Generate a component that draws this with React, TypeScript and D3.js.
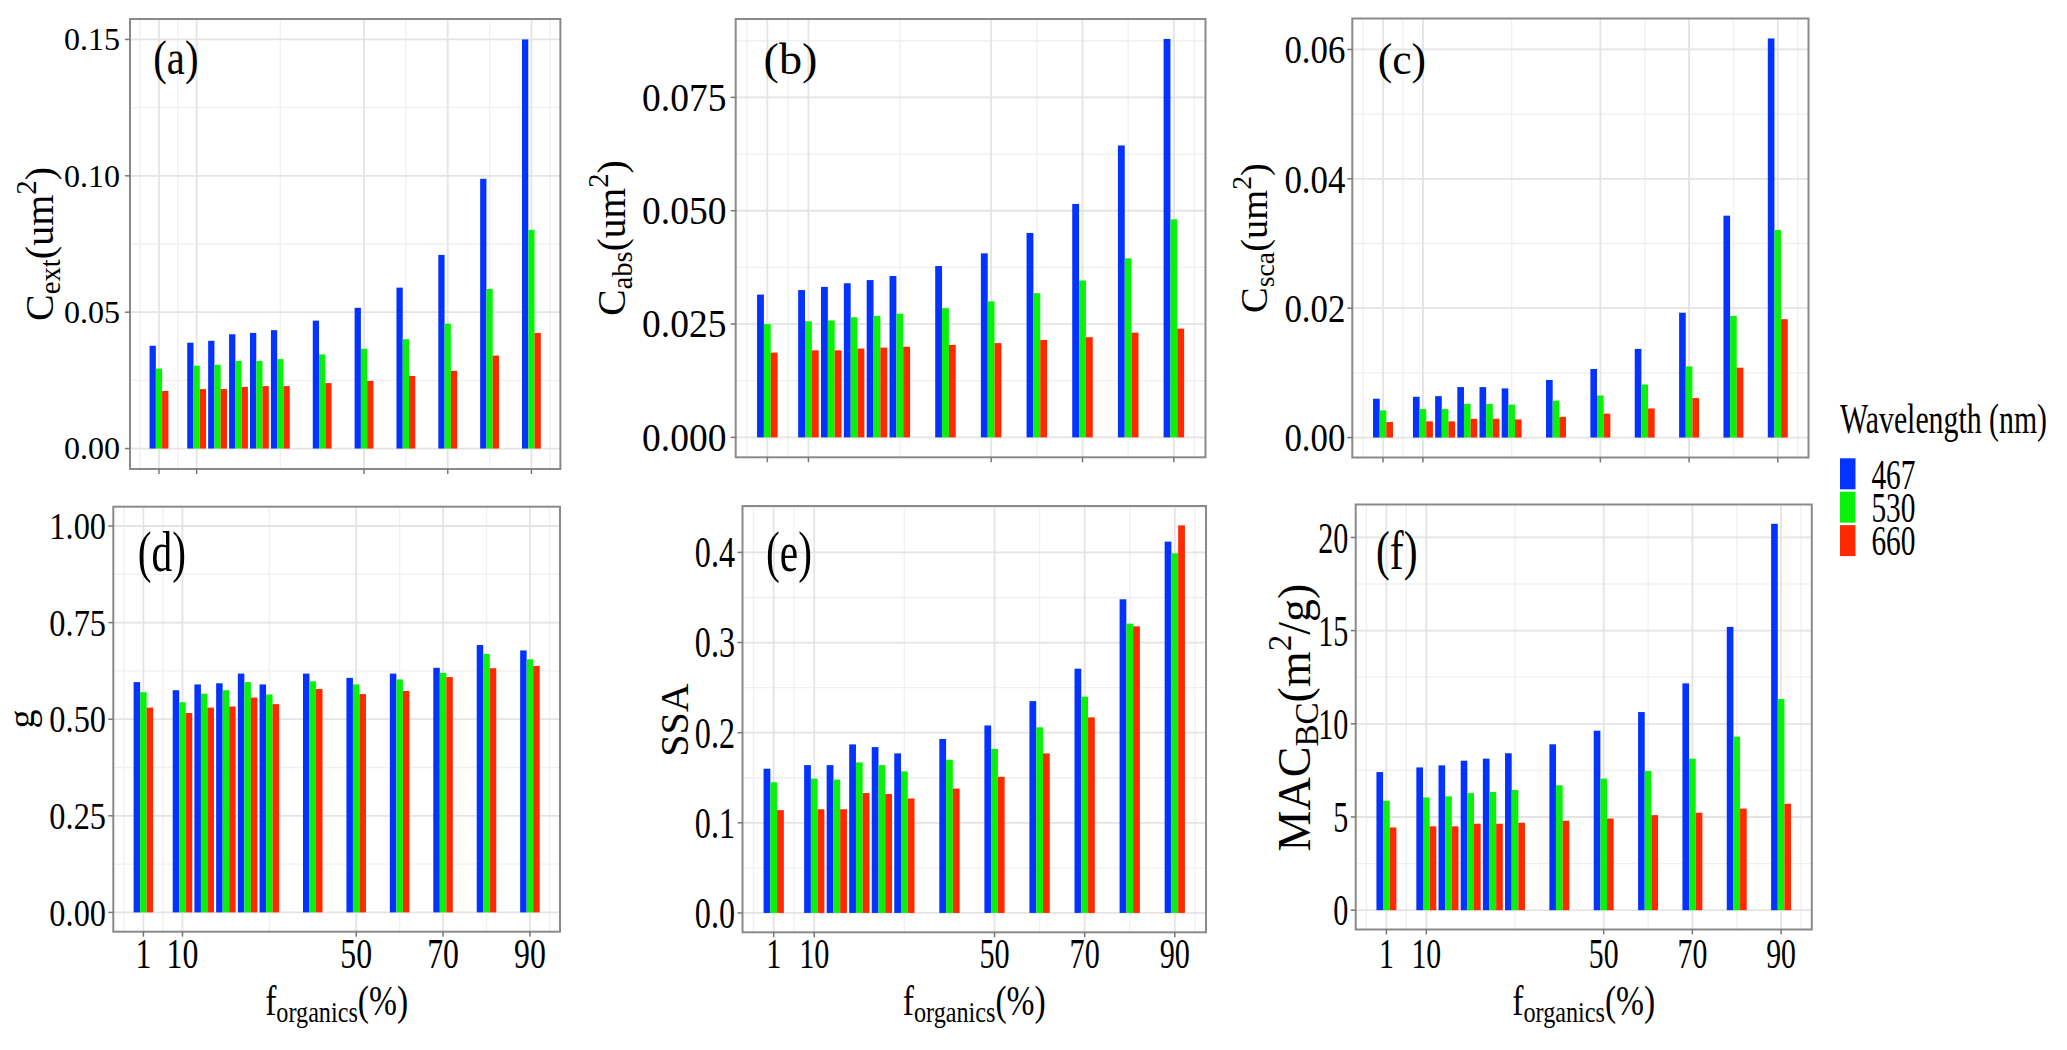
import React from 'react';
import * as d3 from 'd3';

// ---------------- data ----------------
const fOrganics = [1, 10, 15, 20, 25, 30, 40, 50, 60, 70, 80, 90];
const wavelengths = ['467', '530', '660'];
const barColors = ['#0433ff', '#0af20a', '#ff2a00'];

const cext467 = [0.0377, 0.0388, 0.0395, 0.0419, 0.0424, 0.0434, 0.0469, 0.0516, 0.059, 0.071, 0.0989, 0.15];
const cext530 = [0.0293, 0.0304, 0.0307, 0.0321, 0.0321, 0.0328, 0.0345, 0.0366, 0.0401, 0.0458, 0.0585, 0.0802];
const cext660 = [0.0211, 0.0218, 0.0218, 0.0226, 0.0229, 0.0229, 0.024, 0.0248, 0.0266, 0.0285, 0.0341, 0.0424];

const cabs467 = [0.0315, 0.0325, 0.0332, 0.034, 0.0347, 0.0356, 0.0378, 0.0406, 0.0451, 0.0515, 0.0644, 0.0879];
const cabs530 = [0.025, 0.0256, 0.0258, 0.0265, 0.0268, 0.0273, 0.0285, 0.03, 0.0318, 0.0346, 0.0395, 0.0481];
const cabs660 = [0.0187, 0.0192, 0.0192, 0.0196, 0.0198, 0.02, 0.0204, 0.0208, 0.0215, 0.0221, 0.0231, 0.024];

const csca467 = [0.006, 0.0063, 0.0064, 0.0078, 0.0078, 0.0076, 0.0089, 0.0106, 0.0137, 0.0193, 0.0343, 0.0617];
const csca530 = [0.0042, 0.0044, 0.0044, 0.0052, 0.0052, 0.0051, 0.0057, 0.0065, 0.0082, 0.011, 0.0188, 0.0321];
const csca660 = [0.0024, 0.0025, 0.0025, 0.0029, 0.0029, 0.0028, 0.0032, 0.0037, 0.0045, 0.0061, 0.0108, 0.0183];

const g467 = [0.596, 0.575, 0.59, 0.593, 0.618, 0.59, 0.618, 0.607, 0.618, 0.633, 0.692, 0.678];
const g530 = [0.57, 0.544, 0.566, 0.575, 0.596, 0.564, 0.598, 0.59, 0.603, 0.62, 0.669, 0.655];
const g660 = [0.53, 0.516, 0.53, 0.533, 0.556, 0.539, 0.578, 0.565, 0.573, 0.609, 0.632, 0.638];

const ssa467 = [0.16, 0.164, 0.164, 0.187, 0.184, 0.177, 0.193, 0.208, 0.235, 0.271, 0.348, 0.412];
const ssa530 = [0.145, 0.149, 0.148, 0.167, 0.164, 0.157, 0.17, 0.182, 0.206, 0.24, 0.321, 0.399];
const ssa660 = [0.114, 0.115, 0.115, 0.133, 0.132, 0.127, 0.138, 0.151, 0.177, 0.217, 0.318, 0.43];

const mac467 = [7.41, 7.66, 7.77, 8.02, 8.13, 8.42, 8.9, 9.63, 10.63, 12.17, 15.2, 20.73];
const mac530 = [5.87, 6.05, 6.11, 6.28, 6.34, 6.45, 6.7, 7.06, 7.47, 8.13, 9.31, 11.33];
const mac660 = [4.44, 4.5, 4.5, 4.64, 4.64, 4.69, 4.8, 4.92, 5.1, 5.23, 5.45, 5.71];

const xTickValues = [1, 10, 50, 70, 90];
const xTickLabels = ['1', '10', '50', '70', '90'];

const aTicks = [0, 0.05, 0.1, 0.15];
const aTickLabels = ['0.00', '0.05', '0.10', '0.15'];
const bTicks = [0, 0.025, 0.05, 0.075];
const bTickLabels = ['0.000', '0.025', '0.050', '0.075'];
const cTicks = [0, 0.02, 0.04, 0.06];
const cTickLabels = ['0.00', '0.02', '0.04', '0.06'];
const dTicks = [0, 0.25, 0.5, 0.75, 1];
const dTickLabels = ['0.00', '0.25', '0.50', '0.75', '1.00'];
const eTicks = [0, 0.1, 0.2, 0.3, 0.4];
const eTickLabels = ['0.0', '0.1', '0.2', '0.3', '0.4'];
const fTicks = [0, 5, 10, 15, 20];
const fTickLabels = ['0', '5', '10', '15', '20'];

const legendTitle = 'Wavelength (nm)';
const xTitleParts: [string, string][] = [['f', 'n'], ['organics', 'sub'], ['(%)', 'n']];

// ---------------- layout ----------------
type Part = [string, string];
interface PanelCfg {
  tag: string;
  L: number; R: number; T: number; B: number;
  series: number[][];
  ticks: number[]; tickLabels: string[];
  yMax?: number;
  tickF: number; tickSx: number; labelRight: number;
  xLabels: boolean; xTickF?: number; xTickSx?: number;
  title: { parts: Part[]; x: number; y: number; F: number };
  tagPos: { x: number; base: number; F: number; sx: number };
}

const PANELS: PanelCfg[] = [
  {
    tag: '(a)', L: 130, R: 560.4, T: 19, B: 469, series: [cext467, cext530, cext660],
    ticks: aTicks, tickLabels: aTickLabels, tickF: 32, tickSx: 1.0, labelRight: 120, xLabels: false,
    title: { parts: [['C', 'n'], ['ext', 'sub'], ['(um', 'n'], ['2', 'sup'], [')', 'n']], x: 53, y: 244, F: 40 },
    tagPos: { x: 153.3, base: 74, F: 49, sx: 0.83 },
  },
  {
    tag: '(b)', L: 735.7, R: 1205.5, T: 19, B: 457.3, series: [cabs467, cabs530, cabs660],
    ticks: bTicks, tickLabels: bTickLabels, tickF: 39.5, tickSx: 0.95, labelRight: 726.5, xLabels: false,
    title: { parts: [['C', 'n'], ['abs', 'sub'], ['(um', 'n'], ['2', 'sup'], [')', 'n']], x: 625, y: 238, F: 39.5 },
    tagPos: { x: 763.5, base: 73.8, F: 44, sx: 1.05 },
  },
  {
    tag: '(c)', L: 1352.3, R: 1808.5, T: 18.5, B: 457.5, series: [csca467, csca530, csca660],
    ticks: cTicks, tickLabels: cTickLabels, tickF: 41, tickSx: 0.85, labelRight: 1345.4, xLabels: false,
    title: { parts: [['C', 'n'], ['sca', 'sub'], ['(um', 'n'], ['2', 'sup'], [')', 'n']], x: 1267, y: 238, F: 38.5 },
    tagPos: { x: 1377.7, base: 73.8, F: 44, sx: 0.99 },
  },
  {
    tag: '(d)', L: 113.3, R: 560, T: 506.7, B: 931.7, series: [g467, g530, g660], yMax: 1,
    ticks: dTicks, tickLabels: dTickLabels, tickF: 39, tickSx: 0.83, labelRight: 106, xLabels: true,
    xTickF: 43, xTickSx: 0.74,
    title: { parts: [['g', 'n']], x: 34, y: 719, F: 38 },
    tagPos: { x: 137.7, base: 570.6, F: 56, sx: 0.74 },
  },
  {
    tag: '(e)', L: 742.5, R: 1206, T: 506, B: 932.3, series: [ssa467, ssa530, ssa660],
    ticks: eTicks, tickLabels: eTickLabels, tickF: 44, tickSx: 0.73, labelRight: 735, xLabels: true,
    xTickF: 42, xTickSx: 0.72,
    title: { parts: [['SSA', 'n']], x: 688, y: 720, F: 40 },
    tagPos: { x: 766, base: 570.5, F: 56, sx: 0.74 },
  },
  {
    tag: '(f)', L: 1355.7, R: 1811.8, T: 504.5, B: 929.5, series: [mac467, mac530, mac660],
    ticks: fTicks, tickLabels: fTickLabels, tickF: 45, tickSx: 0.67, labelRight: 1348.3, xLabels: true,
    xTickF: 42, xTickSx: 0.71,
    title: { parts: [['MAC', 'n'], ['BC', 'sub'], ['(m', 'n'], ['2', 'sup'], ['/g)', 'n']], x: 1310, y: 717.5, F: 46 },
    tagPos: { x: 1376, base: 568.7, F: 54, sx: 0.77 },
  },
];

const FONT = "'Liberation Serif', 'Times New Roman', Times, serif";
const DODGE = 4.5; // 0.9 * resolution(5)

function natW(s: string) {
  let w = 0;
  for (const ch of s) w += ch === '.' ? 0.25 : 0.5;
  return w;
}

function minorBreaks(b: number[], lim: number[]) {
  const bd = b[1] - b[0];
  let bb = [...b];
  if (lim[0] < bb[0]) bb = [bb[0] - bd, ...bb];
  if (lim[1] > bb[bb.length - 1]) bb = [...bb, bb[bb.length - 1] + bd];
  const out: number[] = [];
  for (let i = 0; i < bb.length - 1; i++) out.push((bb[i] + bb[i + 1]) / 2);
  return out.filter((v) => v > lim[0] && v < lim[1]);
}

function Rich({ parts, F }: { parts: Part[]; F: number }) {
  let cur = 0;
  return (
    <>
      {parts.map(([t, k], i) => {
        const target = k === 'sub' ? 0.17 * F : k === 'sup' ? -0.42 * F : 0;
        const dy = target - cur;
        cur = target;
        const fs = k === 'n' ? F : 0.72 * F;
        return (
          <tspan key={i} dy={dy} fontSize={fs}>
            {t}
          </tspan>
        );
      })}
    </>
  );
}

// text squeezed horizontally by sx, anchored at (x, y) baseline
function SText({ x, y, F, sx, anchor = 'start', children }: any) {
  return (
    <text transform={`translate(${x},${y}) scale(${sx},1)`} fontSize={F} textAnchor={anchor}>
      {children}
    </text>
  );
}

function Panel({ p }: { p: PanelCfg }) {
  const xMin = (d3.min(fOrganics) as number) - DODGE / 2;
  const xMaxD = (d3.max(fOrganics) as number) + DODGE / 2;
  const xpad = (xMaxD - xMin) * 0.05;
  const xDom = [xMin - xpad, xMaxD + xpad];
  const x = d3.scaleLinear().domain(xDom).range([p.L, p.R]);

  const M = p.yMax ?? (d3.max(p.series.flat()) as number);
  const yDom = [-0.05 * M, 1.05 * M];
  const y = d3.scaleLinear().domain(yDom).range([p.B, p.T]);

  const xMinor = minorBreaks(xTickValues, xDom);
  const yMinor = minorBreaks(p.ticks, yDom);
  const bw = x(DODGE / 3) - x(0);

  return (
    <g>
      <rect x={p.L} y={p.T} width={p.R - p.L} height={p.B - p.T} fill="#fff" />
      {yMinor.map((v, i) => (
        <line key={'ym' + i} x1={p.L} x2={p.R} y1={y(v)} y2={y(v)} stroke="#f0f0f0" strokeWidth={1.3} />
      ))}
      {xMinor.map((v, i) => (
        <line key={'xm' + i} x1={x(v)} x2={x(v)} y1={p.T} y2={p.B} stroke="#f0f0f0" strokeWidth={1.3} />
      ))}
      {p.ticks.map((v, i) => (
        <line key={'yM' + i} x1={p.L} x2={p.R} y1={y(v)} y2={y(v)} stroke="#e4e4e4" strokeWidth={1.8} />
      ))}
      {xTickValues.map((v, i) => (
        <line key={'xM' + i} x1={x(v)} x2={x(v)} y1={p.T} y2={p.B} stroke="#e4e4e4" strokeWidth={1.8} />
      ))}
      {p.series.map((s, j) =>
        s.map((v, i) => (
          <rect
            key={j + '-' + i}
            x={x(fOrganics[i] - DODGE / 2 + (j * DODGE) / 3)}
            y={y(v)}
            width={bw}
            height={y(0) - y(v)}
            fill={barColors[j]}
          />
        ))
      )}
      <rect x={p.L} y={p.T} width={p.R - p.L} height={p.B - p.T} fill="none" stroke="#8a8a8a" strokeWidth={2} />
      {p.ticks.map((v, i) => (
        <line key={'yt' + i} x1={p.L - 5} x2={p.L} y1={y(v)} y2={y(v)} stroke="#777" strokeWidth={1.5} />
      ))}
      {p.tickLabels.map((lab, i) => (
        <SText key={'yl' + i} x={p.labelRight} y={y(p.ticks[i]) + 0.338 * p.tickF} F={p.tickF} sx={p.tickSx} anchor="end">
          {lab}
        </SText>
      ))}
      {xTickValues.map((v, i) => (
        <line key={'xt' + i} x1={x(v)} x2={x(v)} y1={p.B} y2={p.B + 5} stroke="#777" strokeWidth={1.5} />
      ))}
      {p.xLabels &&
        xTickLabels.map((lab, i) => (
          <SText key={'xl' + i} x={x(xTickValues[i])} y={968} F={p.xTickF} sx={p.xTickSx} anchor="middle">
            {lab}
          </SText>
        ))}
      {p.xLabels && (
        <g transform={`translate(${(p.L + p.R) / 2},1015) scale(0.8,1)`}>
          <text textAnchor="middle" fontSize={42}>
            <Rich parts={xTitleParts} F={42} />
          </text>
        </g>
      )}
      <g transform={`translate(${p.title.x},${p.title.y}) rotate(-90)`}>
        <text textAnchor="middle" fontSize={p.title.F}>
          <Rich parts={p.title.parts} F={p.title.F} />
        </text>
      </g>
      <SText x={p.tagPos.x} y={p.tagPos.base} F={p.tagPos.F} sx={p.tagPos.sx}>
        {p.tag}
      </SText>
    </g>
  );
}

function Legend() {
  const keyX = 1840;
  const keyW = 15.5;
  const keyH = 31;
  const keyY0 = 458.3;
  const step = 33.4;
  const labF = 42;
  return (
    <g>
      <SText x={keyX} y={433} F={42} sx={0.71}>
        {legendTitle}
      </SText>
      {wavelengths.map((w, i) => {
        const yy = keyY0 + i * step;
        return (
          <g key={w}>
            <rect x={keyX} y={yy} width={keyW} height={keyH} fill={barColors[i]} />
            <SText x={1871.4} y={yy + keyH / 2 + 0.338 * 44} F={labF} sx={0.7}>
              {w}
            </SText>
          </g>
        );
      })}
    </g>
  );
}

export default function App() {
  return (
    <svg
      width={2067}
      height={1050}
      viewBox="0 0 2067 1050"
      style={{ position: 'absolute', left: 0, top: 0, background: '#fff' }}
      fontFamily={FONT}
    >
      <rect x={0} y={0} width={2067} height={1050} fill="#fff" />
      {PANELS.map((p) => (
        <Panel key={p.tag} p={p} />
      ))}
      <Legend />
    </svg>
  );
}
